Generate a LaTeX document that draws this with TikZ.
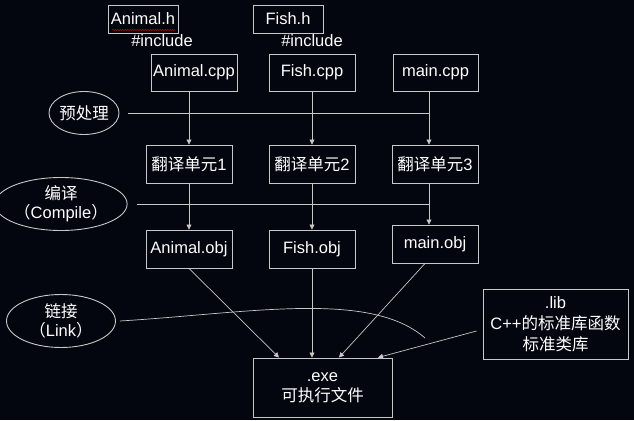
\documentclass[tikz,border=0pt]{standalone}
\usepackage{fontspec}
\setmainfont{Liberation Sans}
\newfontfamily\cjk{Noto Sans CJK SC}
\usetikzlibrary{arrows.meta,decorations.pathmorphing,shapes.geometric}
\definecolor{bg}{HTML}{03050F}
\definecolor{ln}{HTML}{C8C8C8}
\tikzset{
  every node/.style={text=white,font=\fontsize{16.5}{20}\selectfont},
  boxn/.style={draw=ln,line width=0.9pt,inner sep=0pt,align=center},
  ell/.style={draw=ln,line width=0.9pt,ellipse,inner sep=0pt,align=center},
  conn/.style={draw=ln,line width=0.7pt},
  arr/.style={conn,-{Triangle[length=5pt,width=5pt]}},
}
\begin{document}
\begin{tikzpicture}[x=1pt,y=-1pt]
\fill[bg] (0,0) rectangle (634,420);
\useasboundingbox (0,0) rectangle (634,420);
% header files
\node[boxn,minimum width=70pt,minimum height=28pt] (ah) at (143,19) {Animal.h};
\draw[red!80!black,line width=0.5pt,decorate,decoration={snake,amplitude=0.6pt,segment length=2.5pt}] (112,30) -- (175,30);
\node[boxn,minimum width=70pt,minimum height=28pt] (fh) at (288,19) {Fish.h};
\node (inc1) at (162,41) {\#include};
\node (inc2) at (312,41) {\#include};
% sources
\node[boxn,minimum width=86pt,minimum height=37pt] (acpp) at (194,72.5) {Animal.cpp};
\node[boxn,minimum width=86pt,minimum height=37pt] (fcpp) at (312,72.5) {Fish.cpp};
\node[boxn,minimum width=85pt,minimum height=37pt] (mcpp) at (435.5,72.5) {main.cpp};
% translation units
\node[boxn,minimum width=86pt,minimum height=38pt] (t1) at (189,164) {\cjk 翻译单元\rmfamily 1};
\node[boxn,minimum width=86pt,minimum height=38pt] (t2) at (312,164) {\cjk 翻译单元\rmfamily 2};
\node[boxn,minimum width=86pt,minimum height=38pt] (t3) at (435,164) {\cjk 翻译单元\rmfamily 3};
% objects
\node[boxn,minimum width=86pt,minimum height=38pt] (aobj) at (189,249) {Animal.obj};
\node[boxn,minimum width=86pt,minimum height=38pt] (fobj) at (312,249) {Fish.obj};
\node[boxn,minimum width=86pt,minimum height=38pt] (mobj) at (435,244) {main.obj};
% exe and lib
\node[boxn,minimum width=139pt,minimum height=59pt] (exe) at (322.5,387.5) {.exe\\[0pt]{\cjk 可执行文件}};
\node[boxn,minimum width=145pt,minimum height=70pt] (lib) at (555.5,324) {.lib\\[1pt]C++{\cjk 的标准库函数}\\[1pt]{\cjk 标准类库}};
% stage ellipses
\node[ell,minimum width=62pt,minimum height=43pt] (pre) at (84,113) {\cjk 预处理};
\node[ell,minimum width=108pt,minimum height=53pt] (comp) at (61,204) {{\cjk 编译}\\[-1pt]{\cjk （}Compile{\cjk ）}};
\node[ell,minimum width=109pt,minimum height=53pt] (link) at (61,321) {{\cjk 链接}\\[-1pt]{\cjk （}Link{\cjk ）}};
% vertical arrows
\draw[arr] (t1.north |- acpp.south) -- (t1.north);
\draw[arr] (fcpp.south) -- (t2.north);
\draw[arr] ([xshift=-6.5pt]mcpp.south) -- ([xshift=-6pt]t3.north);
\draw[arr] (t1.south) -- (aobj.north);
\draw[arr] (t2.south) -- (fobj.north);
\draw[arr] ([xshift=-6pt]t3.south) -- ([xshift=-6pt]mobj.north);
% stage lines
\coordinate (preEnd) at (429,113);
\coordinate (compEnd) at (429,204);
\draw[conn] ([xshift=9pt]pre.east) -- (preEnd);
\draw[conn] ([xshift=9pt]comp.east) -- (compEnd);
\coordinate (linkEnd) at (425,338);
\draw[conn] ([xshift=4pt]link.east) .. controls (250,313) and (370,290) .. (linkEnd);
% to exe
\draw[arr] (aobj.south) -- ([xshift=-43.5pt]exe.north);
\draw[arr] (fobj.south) -- (fobj.south |- exe.north);
\draw[arr] ([xshift=-10pt]mobj.south) -- ([xshift=16.5pt]exe.north);
\draw[arr] ([xshift=-6pt,yshift=-7pt]lib.west) -- ([xshift=55.5pt]exe.north);
\end{tikzpicture}
\end{document}
